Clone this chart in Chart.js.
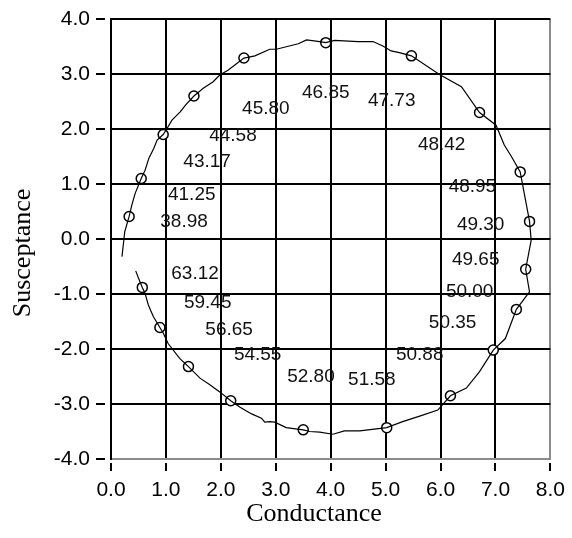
<!DOCTYPE html>
<html>
<head>
<meta charset="utf-8">
<script src="https://cdn.jsdelivr.net/npm/chart.js@4.4.1/dist/chart.umd.min.js"></script>
<style>
  body { margin: 0; background: #fff; }
  canvas { display: block; }
</style>
</head>
<body>
<canvas id="chart" width="572" height="538"></canvas>
<script>
// admittance loop, conductance vs susceptance
var traceG = [0.20, 0.23, 0.25, 0.33, 0.38, 0.44, 0.55, 0.62, 0.69, 0.78, 0.84, 0.95, 1.02, 1.11, 1.26, 1.36,
              1.51, 1.68, 1.86, 1.98, 2.13, 2.42, 2.62, 2.89, 3.01, 3.41, 3.56, 3.80, 3.91, 4.07, 4.50, 4.77,
              4.95, 5.10, 5.25, 5.47, 5.98, 6.38, 6.71, 7.01, 7.16, 7.29, 7.45, 7.62, 7.65, 7.55, 7.62, 7.38,
              7.18, 6.96, 6.71, 6.47, 6.18, 5.95, 5.62, 5.31, 5.02, 4.53, 4.25, 4.04, 3.80, 3.62, 3.50, 3.19,
              2.98, 2.89, 2.80, 2.74, 2.56, 2.35, 2.18, 1.98, 1.80, 1.62, 1.41, 1.25, 1.04, 0.95, 0.89, 0.77,
              0.68, 0.62, 0.57, 0.50, 0.45];
var traceB = [-0.32, -0.05, 0.13, 0.41, 0.62, 0.83, 1.10, 1.25, 1.47, 1.65, 1.80, 1.90, 2.01, 2.16, 2.31, 2.44,
              2.60, 2.74, 2.86, 2.98, 3.07, 3.29, 3.33, 3.45, 3.45, 3.55, 3.62, 3.59, 3.57, 3.61, 3.59, 3.59,
              3.51, 3.42, 3.39, 3.33, 2.99, 2.77, 2.30, 2.07, 1.71, 1.50, 1.22, 0.32, -0.02, -0.55, -0.96, -1.28,
              -1.81, -2.02, -2.41, -2.71, -2.85, -3.11, -3.22, -3.32, -3.43, -3.49, -3.49, -3.55, -3.51, -3.50, -3.47, -3.43,
              -3.33, -3.32, -3.33, -3.26, -3.18, -3.06, -2.94, -2.78, -2.65, -2.53, -2.32, -2.17, -1.90, -1.71, -1.61, -1.41,
              -1.20, -0.99, -0.88, -0.71, -0.58];

// marked frequency points
var pointG = [0.33, 0.55, 0.95, 1.51, 2.42, 3.91, 5.47, 6.71, 7.45, 7.62,
              7.55, 7.38, 6.96, 6.18, 5.02, 3.50, 2.18, 1.41, 0.89, 0.57];
var pointB = [0.41, 1.10, 1.90, 2.60, 3.29, 3.57, 3.33, 2.30, 1.22, 0.32,
              -0.55, -1.28, -2.02, -2.85, -3.43, -3.47, -2.94, -2.32, -1.61, -0.88];

// frequency labels, anchored in data units
var freqText = ['38.98', '41.25', '43.17', '44.58', '45.80', '46.85', '47.73', '48.42', '48.95', '49.30',
                '49.65', '50.00', '50.35', '50.88', '51.58', '52.80', '54.55', '56.65', '59.45', '63.12'];
var freqG = [1.33, 1.47, 1.75, 2.22, 2.82, 3.91, 5.11, 6.02, 6.58, 6.73,
             6.64, 6.53, 6.22, 5.62, 4.75, 3.64, 2.67, 2.15, 1.76, 1.53];
var freqB = [0.31, 0.80, 1.40, 1.87, 2.37, 2.65, 2.51, 1.72, 0.95, 0.25,
             -0.38, -0.96, -1.52, -2.11, -2.56, -2.51, -2.10, -1.65, -1.16, -0.64];

var xTitle = 'Conductance';
var yTitle = 'Susceptance';

function zip(a, b) {
    var out = [];
    for (var i = 0; i < a.length; i++) out.push({x: a[i], y: b[i]});
    return out;
}

var edgeGrey = '#8c8c8c';
var sansFont = '"Liberation Sans", Arial, sans-serif';
var serifFont = '"Liberation Serif", "Times New Roman", serif';

var textLayer = {
    id: 'textLayer',
    afterDatasetsDraw: function(chart) {
        var ctx = chart.ctx;
        var xs = chart.scales.x, ys = chart.scales.y;
        ctx.save();
        ctx.fillStyle = '#111';
        ctx.font = '19px ' + sansFont;
        ctx.textAlign = 'center';
        ctx.textBaseline = 'middle';
        for (var i = 0; i < freqText.length; i++) {
            ctx.fillText(freqText[i], xs.getPixelForValue(freqG[i]), ys.getPixelForValue(freqB[i]));
        }
        // axis titles
        ctx.fillStyle = '#000';
        ctx.font = '26px ' + serifFont;
        ctx.fillText(xTitle, 314, 514);
        ctx.translate(23, 253);
        ctx.rotate(-Math.PI / 2);
        ctx.fillText(yTitle, 0, 0);
        ctx.restore();
    }
};

const ctx = document.getElementById('chart');

var myChart = new Chart(ctx, {
    type: 'scatter',
    data: {
        datasets: [
            {
                label: 'trace',
                data: zip(traceG, traceB),
                showLine: true,
                borderColor: '#000',
                borderWidth: 1.2,
                pointRadius: 0,
                tension: 0
            },
            {
                label: 'points',
                data: zip(pointG, pointB),
                pointRadius: 5,
                pointBorderWidth: 1.5,
                pointBackgroundColor: '#fff',
                pointBorderColor: '#000'
            }
        ]
    },
    options: {
        responsive: false,
        animation: false,
        layout: { padding: { left: 0, right: 21, top: 19, bottom: 0 } },
        plugins: {
            legend: { display: false },
            tooltip: { enabled: false }
        },
        scales: {
            x: {
                type: 'linear',
                position: 'bottom',
                min: 0, max: 8,
                afterFit: function(s) { s.height = 79; },
                border: { color: edgeGrey, width: 2 },
                grid: {
                    lineWidth: 2,
                    color: function(c) { return c.tick && c.tick.value === 8 ? edgeGrey : '#000'; },
                    tickColor: '#000',
                    tickLength: 12,
                    tickWidth: 2,
                    tickBorderDash: [0, 3, 9, 20]
                },
                ticks: {
                    stepSize: 1,
                    padding: 7,
                    color: '#000',
                    font: { family: sansFont, size: 21 },
                    callback: function(v) { return v.toFixed(1); }
                }
            },
            y: {
                type: 'linear',
                min: -4, max: 4,
                afterFit: function(s) { s.width = 111; },
                border: { color: '#000', width: 2 },
                grid: {
                    lineWidth: 2,
                    color: function(c) { return c.tick && c.tick.value === -4 ? edgeGrey : '#000'; },
                    tickColor: '#000',
                    tickLength: 15,
                    tickWidth: 2,
                    tickBorderDash: [9, 20]
                },
                ticks: {
                    stepSize: 1,
                    padding: 6,
                    color: '#000',
                    font: { family: sansFont, size: 21 },
                    callback: function(v) { return v.toFixed(1); }
                }
            }
        }
    },
    plugins: [textLayer]
});
</script>
</body>
</html>
